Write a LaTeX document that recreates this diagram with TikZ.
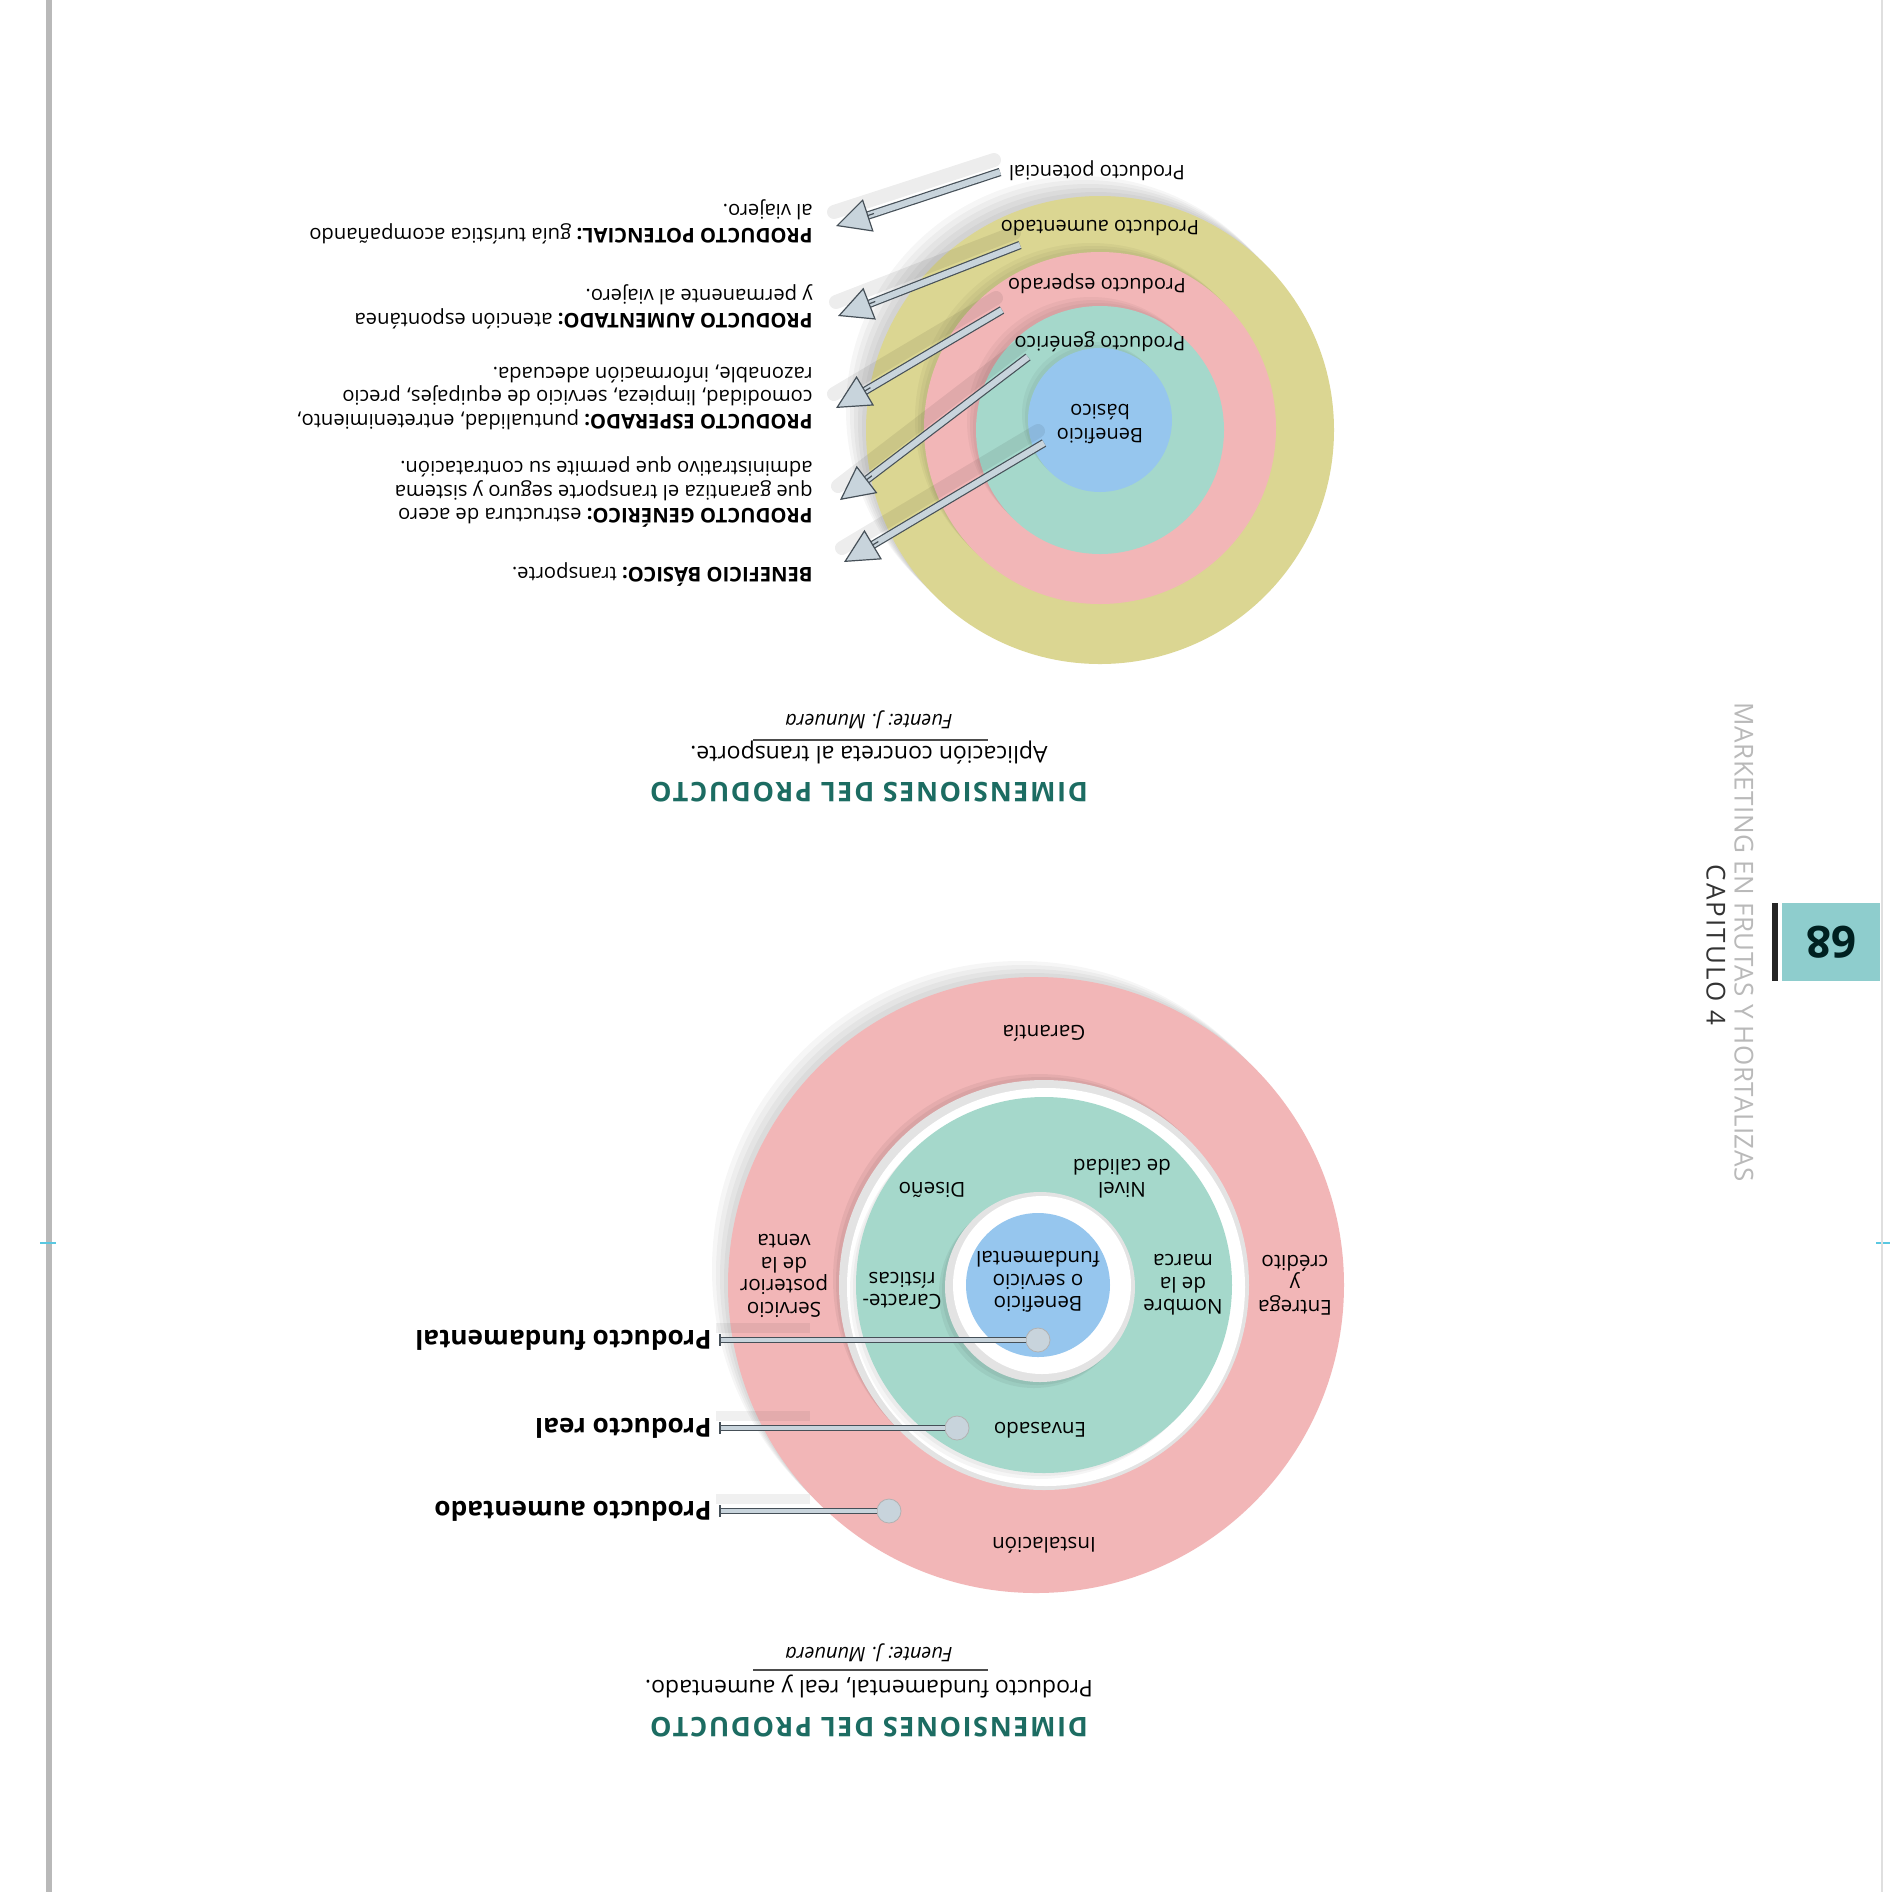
\documentclass[tikz,border=0pt]{standalone}
\usepackage{fontspec}
\setmainfont{Open Sans}
\usetikzlibrary{arrows.meta,calc}
\definecolor{ringyellow}{RGB}{219,214,146}
\definecolor{ringpink}{RGB}{242,182,183}
\definecolor{ringteal}{RGB}{165,216,203}
\definecolor{ringblue}{RGB}{150,198,238}
\definecolor{headteal}{RGB}{28,108,98}
\definecolor{tabteal}{RGB}{142,205,205}
\definecolor{pinsteel}{RGB}{200,212,220}
\definecolor{steeldark}{RGB}{70,80,88}
\definecolor{markcyan}{RGB}{90,200,225}

\begin{document}
\begin{tikzpicture}[
  x=0.5pt,y=-0.5pt,
  flip/.style={rotate=180,inner sep=0pt},
  ringtext/.style={flip,align=center,font=\fontsize{10}{12}\selectfont},
  celltext/.style={flip,align=center,font=\fontsize{10.3}{11.3}\selectfont},
  bodytext/.style={flip,align=left,anchor=north west,font=\fontsize{10.1}{11.75}\selectfont},
  pintext/.style={flip,anchor=west,font=\fontsize{13.1}{15}\selectfont\bfseries},
  headtext/.style={flip,font=\fontsize{13.5}{15}\selectfont\bfseries\addfontfeature{LetterSpace=6},text=headteal},
  subtext/.style={flip,font=\fontsize{11.5}{14}\selectfont},
  srctext/.style={flip,font=\fontsize{10}{12}\selectfont\itshape},
  ball/.style={circle,inner sep=0pt,minimum size=12pt,fill=pinsteel,draw=gray!60},
]
  \useasboundingbox (0,0) rectangle (1890,1892);
  \fill[white] (0,0) rectangle (1890,1892);

  % page edge and marks
  \fill[gray!55] (46,0) rectangle (52,1892);
  \draw[markcyan,line width=0.8pt] (40,1243) -- (56,1243);
  \draw[markcyan,line width=0.8pt] (1876,1243) -- (1890,1243);
  \draw[gray!25,line width=0.6pt] (1882,0) -- (1882,1892);

  % rings, transport
  \foreach \d in {4,8,...,20}
    \fill[black,opacity=.035,shift={(-\d,-\d)}] (1100,430) circle[radius=234];
  \fill[ringyellow] (1100,430) circle[radius=234];
  \foreach \d in {3,6,9}
    \fill[black,opacity=.035,shift={(-\d,-\d)}] (1100,428) circle[radius=176];
  \fill[ringpink] (1100,428) circle[radius=176];
  \foreach \d in {3,6,9}
    \fill[black,opacity=.035,shift={(-\d,-\d)}] (1100,430) circle[radius=124];
  \fill[ringteal] (1100,430) circle[radius=124];
  \foreach \d in {3,6}
    \fill[black,opacity=.04,shift={(-\d,-\d)}] (1100,420) circle[radius=72];
  \fill[ringblue] (1100,420) circle[radius=72];

  \node[ringtext] (lpot) at (1097,171) {Producto potencial};
  \node[ringtext] (laum) at (1100,228) {Producto aumentado};
  \node[ringtext] (lesp) at (1097,284) {Producto esperado};
  \node[ringtext] (lgen) at (1100,342) {Producto genérico};
  \node[ringtext] (lben) at (1100,424) {Beneficio\\básico};

  \coordinate (s1) at (1000,172); \coordinate (t1) at (836,226);
  \coordinate (s2) at (1020,245); \coordinate (t2) at (838,316);
  \coordinate (s3) at (1002,310); \coordinate (t3) at (836,408);
  \coordinate (s4) at (1028,357); \coordinate (t4) at (840,500);
  \coordinate (s5) at (1044,443); \coordinate (t5) at (844,562);
  \foreach \i in {1,...,5}{
    \draw[black,opacity=.07,line width=7pt,line cap=round]
      ($(s\i)+(-6,-12)$) -- ($(t\i)+(-2,-14)$);
    \draw[steeldark,line width=0.6pt,double=pinsteel,double distance=3pt,shorten >=14pt] (s\i) -- (t\i);
    \draw[steeldark,line width=0.6pt,-{Triangle[length=17pt,width=17pt,fill=pinsteel]}]
      ($(t\i)!20pt!(s\i)$) -- (t\i);
  }

  \node[bodytext] (pot) at (813,244) {\textbf{PRODUCTO POTENCIAL:} guía turística acompañando\\al viajero.};
  \node[bodytext] (aum) at (813,329) {\textbf{PRODUCTO AUMENTADO:} atención espontánea\\y permanente al viajero.};
  \node[bodytext] (esp) at (813,430) {\textbf{PRODUCTO ESPERADO:} puntualidad, entretenimiento,\\comodidad, limpieza, servicio de equipajes, precio\\razonable, información adecuada.};
  \node[bodytext] (gen) at (813,528) {\textbf{PRODUCTO GENÉRICO:} estructura de acero\\que garantiza el transporte seguro y sistema\\administrativo que permite su contratación.};
  \node[bodytext] (ben) at (813,587) {\textbf{BENEFICIO BÁSICO:} transporte.};

  \node[headtext] (h1) at (869,792) {DIMENSIONES DEL PRODUCTO};
  \node[subtext] (s1t) at (869,753) {Aplicación concreta al transporte.};
  \draw[gray!60!black,line width=0.6pt] (753,740) -- (988,740);
  \node[srctext] (f1) at (869,720) {Fuente: J. Munuera};

  % rings, product
  \foreach \d in {4,8,...,16}
    \fill[black,opacity=.035,shift={(-\d,-\d)}] (1036,1285) circle[radius=308];
  \fill[ringpink] (1036,1285) circle[radius=308];
  \foreach \d in {3,6}
    \fill[black,opacity=.05,shift={(-\d,-\d)}] (1044,1285) circle[radius=205];
  \fill[gray!22] (1044,1285) circle[radius=205];
  \fill[white] (1046,1287) circle[radius=199];
  \foreach \d in {3,6}
    \fill[black,opacity=.04,shift={(-\d,\d)}] (1044,1285) circle[radius=188];
  \fill[ringteal] (1044,1285) circle[radius=188];
  \foreach \d in {3,6}
    \fill[black,opacity=.05,shift={(-\d,\d)}] (1040,1287) circle[radius=95];
  \fill[gray!22] (1040,1287) circle[radius=95];
  \fill[white] (1042,1285) circle[radius=89];
  \fill[ringblue] (1038,1285) circle[radius=72];

  \node[celltext] (gar) at (1044,1033) {Garantía};
  \node[celltext] (niv) at (1122,1179) {Nivel\\de calidad};
  \node[celltext] (dis) at (932,1190) {Diseño};
  \node[celltext] (ent) at (1295,1285) {Entrega\\y\\crédito};
  \node[celltext] (nom) at (1183,1285) {Nombre\\de la\\marca};
  \node[celltext] (bsf) at (1038,1282) {Beneficio\\o servicio\\fundamental};
  \node[celltext] (car) at (902,1291) {Caracte-\\rísticas};
  \node[celltext] (ser) at (784,1276) {Servicio\\posterior\\de la\\venta};
  \node[celltext] (env) at (1040,1430) {Envasado};
  \node[celltext] (ins) at (1044,1545) {Instalación};

  \foreach \n/\y/\bx/\txt in {fun/1340/1038/Producto fundamental,rea/1428/957/Producto real,aug/1511/889/Producto aumentado}{
    \node[ball] (b\n) at (\bx,\y) {};
    \coordinate (k\n) at (720,\y);
    \draw[black,opacity=.06,line width=5pt] ($(k\n)+(-4,-12)$) -- ($(k\n)+(90,-12)$);
    \draw[steeldark,line width=0.5pt,double=pinsteel,double distance=2.2pt] (k\n) -- (b\n);
    \draw[steeldark,line width=1.3pt] ($(k\n)+(0,-6)$) -- ($(k\n)+(0,6)$);
    \node[pintext] (p\n) at (712,\y) {\txt};
  }

  \node[headtext] (h2) at (869,1727) {DIMENSIONES DEL PRODUCTO};
  \node[subtext] (s2t) at (869,1687) {Producto fundamental, real y aumentado.};
  \draw[gray!60!black,line width=0.6pt] (753,1670) -- (988,1670);
  \node[srctext] (f2) at (869,1653) {Fuente: J. Munuera};

  % running head
  \node[rotate=-90,font=\fontsize{13}{14}\selectfont\addfontfeature{LetterSpace=2},text=gray!55] (mkt) at (1744,942) {MARKETING EN FRUTAS Y HORTALIZAS};
  \node[rotate=-90,font=\fontsize{13}{14}\selectfont\addfontfeature{LetterSpace=8},text=black!80] (cap) at (1716,945) {CAPITULO 4};
  \fill[black!85] (1772,903) rectangle (1778,981);
  \node[flip,fill=tabteal,minimum width=49pt,minimum height=39pt,font=\fontsize{22}{24}\selectfont\bfseries,text=black!75!teal] (pg) at (1831,942) {68};
\end{tikzpicture}
\end{document}
